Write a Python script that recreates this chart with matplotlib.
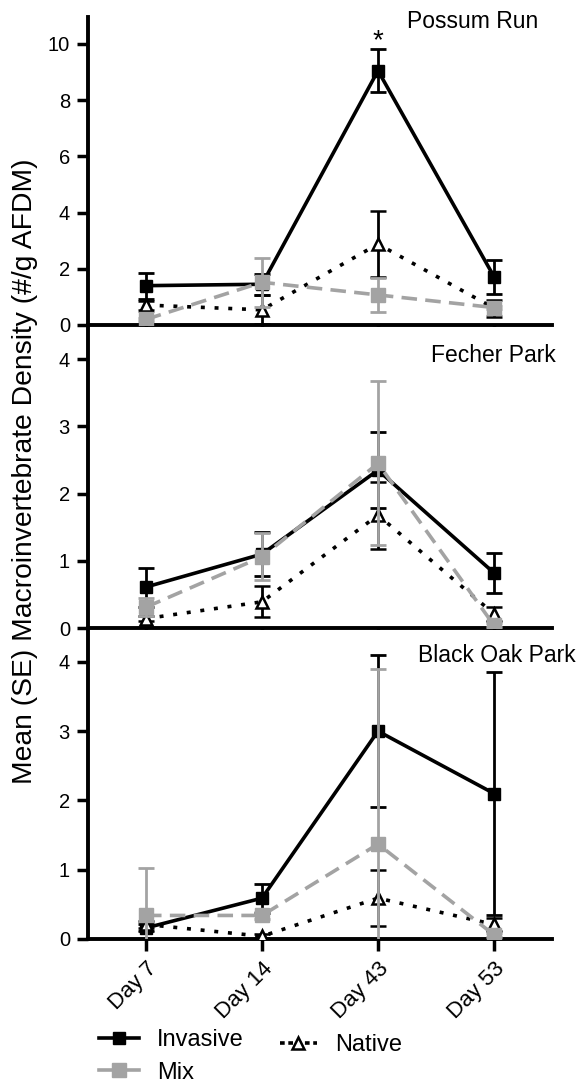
import numpy as np
import matplotlib
matplotlib.use("Agg")
import matplotlib.pyplot as plt
from matplotlib.lines import Line2D

plt.rcParams['font.family'] = ['Liberation Sans', 'DejaVu Sans']

days = ["Day 7", "Day 14", "Day 43", "Day 53"]
sites = ["Possum Run", "Fecher Park", "Black Oak Park"]

# means and SE per site: Invasive, Mix, Native
invasive = [[1.40, 1.45, 9.05, 1.72], [0.61, 1.10, 2.35, 0.82], [0.16, 0.59, 3.00, 2.10]]
invasive_se = [[0.46, 0.38, 0.77, 0.60], [0.29, 0.33, 0.56, 0.30], [0.05, 0.21, 1.10, 1.75]]
mix = [[0.20, 1.52, 1.07, 0.62], [0.31, 1.06, 2.45, 0.04], [0.34, 0.34, 1.37, 0.06]]
mix_se = [[0.05, 0.87, 0.62, 0.05], [0.13, 0.35, 1.22, 0.03], [0.68, 0.05, 2.53, 0.03]]
native = [[0.71, 0.54, 2.88, 0.60], [0.14, 0.39, 1.68, 0.21], [0.21, 0.04, 0.59, 0.21]]
native_se = [[0.16, 0.52, 1.18, 0.30], [0.04, 0.23, 0.50, 0.11], [0.05, 0.03, 0.40, 0.10]]

ylims = [10.96, 4.48, 4.46]
yticks = [[0, 2, 4, 6, 8, 10], [0, 1, 2, 3, 4], [0, 1, 2, 3, 4]]

W, H = 576.0, 1087.0
# (top px, bottom px) of each panel
panel_px = [(17, 325), (327, 628), (630, 939)]
# right end (data x) and vertical centre (px from panel top) of site names
title_pos = [(3.38, 5), (3.53, 28), (3.70, 25)]

gray = '#a3a3a3'
lw = 2.6
dotted = (0, (1.1, 2.7))
dashed = (0, (4.3, 2.3))
x = np.arange(len(days))

fig = plt.figure(figsize=(5.76, 10.87), dpi=100)

for i in range(3):
    top, bot = panel_px[i]
    ax = fig.add_axes([88 / W, 1 - bot / H, 464 / W, (bot - top) / H])

    ax.errorbar(x, invasive[i], yerr=invasive_se[i], color='black', lw=lw,
                marker='s', markersize=8, capsize=6, capthick=2, elinewidth=2,
                zorder=3)
    ax.errorbar(x, native[i], yerr=native_se[i], color='black', lw=lw,
                linestyle=dotted, dash_capstyle='butt',
                marker='^', markersize=8, markerfacecolor='white',
                markeredgewidth=1.8, capsize=6, capthick=2, elinewidth=2,
                zorder=4)
    ax.errorbar(x, mix[i], yerr=mix_se[i], color=gray, lw=lw,
                linestyle=dashed, marker='s', markersize=10,
                capsize=6, capthick=2, elinewidth=2, zorder=5)

    ax.set_xlim(-0.5, 3.5)
    ax.set_ylim(0, ylims[i])
    ax.set_yticks(yticks[i])
    ax.set_xticks(x)
    for s in ['top', 'right']:
        ax.spines[s].set_visible(False)
    for s in ['left', 'bottom']:
        ax.spines[s].set_linewidth(2.8)
    ax.tick_params(axis='y', length=8, width=2.5, labelsize=14.5, pad=5)
    ax.tick_params(axis='x', length=8.6, width=2.5, labelsize=16, pad=5)

    if i < 2:
        ax.set_xticklabels([])
    else:
        ax.set_xticklabels(days, rotation=45, ha='right', rotation_mode='anchor')

    tx, ty = title_pos[i]
    ax.text(tx, 1 - ty / (bot - top), sites[i], transform=ax.get_xaxis_transform(),
            ha='right', va='center', fontsize=16.5, clip_on=False)

    if i == 0:
        ax.text(2, 9.85, '*', ha='center', va='baseline', fontsize=20)

fig.text(25 / W, 1 - 471 / H, "Mean (SE) Macroinvertebrate Density (#/g AFDM)",
         rotation=90, ha='center', va='center', fontsize=20.3)

h_inv = Line2D([], [], color='black', lw=lw, marker='s', markersize=8)
h_mix = Line2D([], [], color=gray, lw=lw, marker='s', markersize=10)
h_nat = Line2D([], [], color='black', lw=lw, linestyle=(0, (1.3, 1.0)),
               marker='^', markersize=8, markerfacecolor='white',
               markeredgewidth=1.8)

fig.legend([h_inv, h_mix], ["Invasive", "Mix"], frameon=False,
           loc='upper left', bbox_to_anchor=(99 / W, 1 - 1029 / H), fontsize=17,
           handlelength=1.7, handletextpad=0.75, labelspacing=0.45,
           borderaxespad=0, borderpad=0)
fig.legend([h_nat], ["Native"], frameon=False,
           loc='upper left', bbox_to_anchor=(280 / W, 1 - 1034 / H), fontsize=17,
           handlelength=1.55, handletextpad=0.8, borderaxespad=0, borderpad=0)

fig.savefig("out.png", dpi=100)
